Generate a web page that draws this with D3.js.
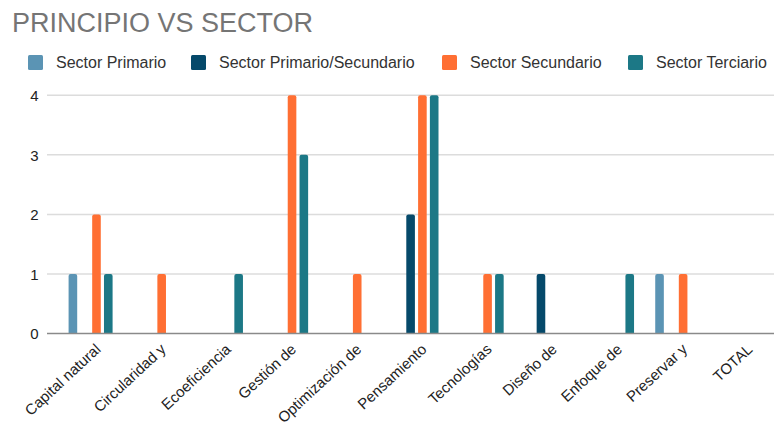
<!DOCTYPE html>
<html><head><meta charset="utf-8">
<script src="https://cdn.jsdelivr.net/npm/d3@7"></script>
<style>html,body{margin:0;padding:0;background:#fff}svg{display:block}</style>
</head><body>
<svg id="c" width="774" height="426"></svg>
<script>
const categories = ["Capital natural","Circularidad y","Ecoeficiencia","Gestión de","Optimización de","Pensamiento","Tecnologías","Diseño de","Enfoque de","Preservar y","TOTAL"];
const seriesNames = ["Sector Primario","Sector Primario/Secundario","Sector Secundario","Sector Terciario"];
const seriesColors = ["#5b94b4","#05496a","#ff6f33","#1c7886"];
const primario =    [1,0,0,0,0,0,0,0,0,1,0];
const primSec =     [0,0,0,0,0,2,0,1,0,0,0];
const secundario =  [2,1,0,4,1,4,1,0,0,1,0];
const terciario =   [1,0,1,3,0,4,1,0,1,0,0];
const yTicks = [0,1,2,3,4];
const values = [primario, primSec, secundario, terciario];

const svg = d3.select("#c");
const font = "'Liberation Sans', Arial, sans-serif";

svg.append("text").attr("x",12).attr("y",32).attr("font-family",font)
  .attr("font-size",27).attr("fill","#757575").text("PRINCIPIO VS SECTOR");

// legend
const legX = [28, 191, 442, 628];
seriesNames.forEach((n,i)=>{
  const g = svg.append("g").attr("transform",`translate(${legX[i]},55)`);
  g.append("rect").attr("width",15).attr("height",15).attr("rx",1.5).attr("fill",seriesColors[i]);
  g.append("text").attr("x",28).attr("y",13).attr("font-family",font).attr("font-size",16)
    .attr("fill","#333").text(n);
});

const y = d3.scaleLinear().domain([0,4]).range([333.5,95.3]);
const x = d3.scaleBand().domain(categories).range([58,775]).paddingInner(0).paddingOuter(0);
const xs = d3.scaleBand().domain(d3.range(4)).range([-22,22]).paddingInner(0.27);

// grid
svg.append("g").selectAll("line").data(yTicks.filter(d=>d>0)).join("line")
  .attr("x1",47).attr("x2",774).attr("y1",d=>y(d)).attr("y2",d=>y(d))
  .attr("stroke","#dcdcdc").attr("stroke-width",1.5);

const yAxis = svg.append("g").attr("transform","translate(38.5,0)")
  .call(d3.axisLeft(y).tickValues(yTicks).tickSize(0).tickPadding(0).tickFormat(d3.format("d")));
yAxis.select(".domain").remove();
yAxis.selectAll("text").attr("font-family",font).attr("font-size",15).attr("fill","#222").attr("dy","0.36em");

// bars
const r = 2;
function barPath(x0,w,y0,y1){
  return `M${x0},${y0}V${y1+r}Q${x0},${y1} ${x0+r},${y1}H${x0+w-r}Q${x0+w},${y1} ${x0+w},${y1+r}V${y0}Z`;
}
values.forEach((vals,si)=>{
  svg.append("g").selectAll("path").data(categories.map((c,ci)=>({c,v:vals[ci]})).filter(d=>d.v>0))
    .join("path").attr("fill",seriesColors[si])
    .attr("d",d=>{
      const cx = x(d.c)+x.bandwidth()/2;
      const x0 = cx + xs(si);
      return barPath(x0, xs.bandwidth(), y(0), y(d.v));
    });
});

// baseline
svg.append("line").attr("x1",47).attr("x2",774).attr("y1",y(0)).attr("y2",y(0))
  .attr("stroke","#8a8a8a").attr("stroke-width",1.5);

// x labels
const xAxis = svg.append("g").attr("transform",`translate(0,${y(0)})`)
  .call(d3.axisBottom(x).tickSize(0).tickPadding(0));
xAxis.select(".domain").remove();
xAxis.selectAll(".tick text")
  .attr("font-family",font).attr("font-size",15).attr("fill","#222")
  .attr("text-anchor","end").attr("dy",0).attr("y",0)
  .attr("transform","translate(11,17) rotate(-43)");
</script>
</body></html>
